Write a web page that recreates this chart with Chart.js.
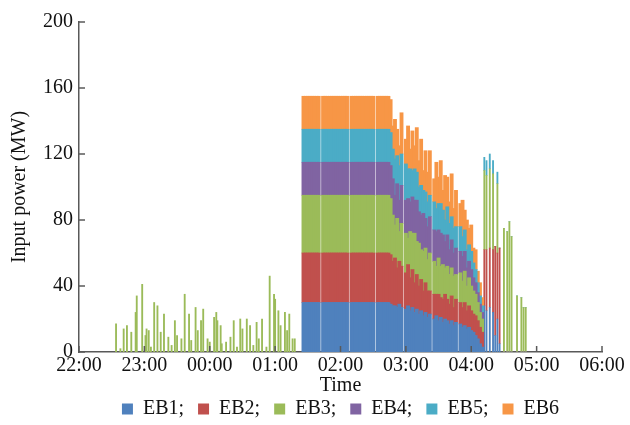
<!DOCTYPE html>
<html>
<head>
<meta charset="utf-8">
<script src="https://cdn.jsdelivr.net/npm/chart.js@4.4.1/dist/chart.umd.min.js"></script>
<style>
  html, body { margin: 0; padding: 0; background: #fff; }
</style>
</head>
<body>
<canvas id="powerChart" width="630" height="425"></canvas>
<script>
// minutes after 22:00
const hourTicks = ['22:00', '23:00', '00:00', '01:00', '02:00', '03:00', '04:00', '05:00', '06:00'];
const seriesNames = ['EB1', 'EB2', 'EB3', 'EB4', 'EB5', 'EB6'];
const seriesColors = ['#4F81BD', '#C0504D', '#9BBB59', '#8064A2', '#4BACC6', '#F79646'];

// 2-minute bins, full load block then ramp down
const mainTimes = [
  206, 208, 210, 212, 214, 216, 218, 220,
  224, 226, 228, 230, 232, 234, 236, 238, 240, 242, 244, 246,
  250, 252, 254, 256, 258, 260, 262, 264, 266, 268, 270,
  274, 276, 278, 280, 282, 284,
  286, 288, 290, 292, 294, 296,
  300, 302, 304, 306, 308, 310, 312, 314, 316, 318, 320, 322,
  326, 328, 330, 332, 334, 336, 338, 340, 342, 344, 346,
  350, 352, 354, 356, 358, 360, 362, 364, 366, 368, 370
];
const eb1 = [
  30, 30, 30, 30, 30, 30, 30, 30,
  30, 30, 30, 30, 30, 30, 30, 30, 30, 30, 30, 30,
  30, 30, 30, 30, 30, 30, 30, 30, 30, 30, 30,
  30, 30, 30, 30, 30, 30,
  29, 28, 28, 27, 29, 27,
  26, 28, 25, 27, 24, 26, 23, 25, 22, 24, 21, 23,
  20, 22, 19, 21, 18, 20, 19, 17, 19, 16, 18,
  17, 15, 16, 14, 15, 13, 12, 10, 8, 5, 3
];
const eb2 = [
  30, 30, 30, 30, 30, 30, 30, 30,
  30, 30, 30, 30, 30, 30, 30, 30, 30, 30, 30, 30,
  30, 30, 30, 30, 30, 30, 30, 30, 30, 30, 30,
  30, 30, 30, 30, 30, 30,
  30, 27, 29, 24, 26, 25,
  22, 25, 20, 23, 18, 21, 17, 19, 15, 18, 16, 14,
  15, 13, 16, 12, 14, 15, 13, 12, 15, 11, 14,
  13, 12, 14, 11, 13, 12, 11, 12, 11, 10, 9
];
const eb3 = [
  35, 35, 35, 35, 35, 35, 35, 35,
  35, 35, 35, 35, 35, 35, 35, 35, 35, 35, 35, 35,
  35, 35, 35, 35, 35, 35, 35, 35, 35, 35, 35,
  35, 35, 35, 35, 35, 35,
  34, 28, 20, 30, 18, 26,
  24, 16, 28, 22, 30, 20, 26, 18, 24, 21, 19, 23,
  20, 17, 22, 19, 21, 16, 20, 18, 17, 19, 15,
  18, 16, 19, 15, 17, 15, 14, 13, 11, 9, 8
];
const eb4 = [
  20, 20, 20, 20, 20, 20, 20, 20,
  20, 20, 20, 20, 20, 20, 20, 20, 20, 20, 20, 20,
  20, 20, 20, 20, 20, 20, 20, 20, 20, 20, 20,
  20, 20, 20, 20, 20, 20,
  20, 22, 18, 21, 19, 23,
  20, 24, 18, 22, 20, 25, 19, 21, 23, 18, 20, 22,
  19, 21, 17, 20, 18, 16, 19, 15, 17, 14, 16,
  13, 15, 12, 11, 10, 10, 8, 7, 6, 5, 4
];
const eb5 = [
  20, 20, 20, 20, 20, 20, 20, 20,
  20, 20, 20, 20, 20, 20, 20, 20, 20, 20, 20, 20,
  20, 20, 20, 20, 20, 20, 20, 20, 20, 20, 20,
  20, 20, 20, 20, 20, 20,
  20, 18, 22, 17, 21, 19,
  22, 18, 20, 16, 19, 17, 15, 18, 14, 16, 15, 13,
  17, 14, 16, 18, 15, 13, 17, 16, 14, 15, 13,
  15, 12, 13, 11, 10, 11, 9, 8, 6, 5, 4
];
const eb6 = [
  20, 20, 20, 20, 20, 20, 20, 20,
  20, 20, 20, 20, 20, 20, 20, 20, 20, 20, 20, 20,
  20, 20, 20, 20, 20, 20, 20, 20, 20, 20, 20,
  20, 20, 20, 20, 20, 20,
  20, 14, 24, 16, 12, 25,
  15, 26, 12, 24, 14, 27, 16, 28, 12, 25, 18, 27,
  14, 28, 16, 26, 12, 27, 18, 13, 26, 12, 22,
  14, 22, 12, 18, 10, 16, 9, 12, 7, 8, 5
];

// scattered single boiler spikes before the block (EB3 only)
const earlyTimes = [
  34, 38, 41, 44, 48, 52, 53, 58, 61, 62, 64, 66, 69, 72, 75, 78, 82, 85, 88, 90,
  94, 97, 101, 103, 107, 109, 112, 114, 118, 120, 124, 126, 127, 130, 131, 135, 139, 142, 145, 148,
  150, 154, 157, 160, 163, 165, 168, 172, 175, 179, 180, 183, 185, 189, 191, 193, 196, 198
];
const earlyEB3 = [
  17, 2, 14, 16, 12, 24, 34, 41, 10, 14, 13, 3, 30, 28, 12, 23, 9, 4, 19, 10,
  8, 35, 23, 7, 27, 13, 19, 26, 8, 6, 21, 24, 19, 16, 5, 6, 9, 19, 3, 20,
  14, 20, 16, 4, 18, 8, 20, 3, 46, 35, 32, 25, 16, 24, 13, 23, 8, 8
];

// thin spikes after the ramp
const lateTimes = [372, 374, 377, 380, 382, 384, 386, 390, 393, 395, 397, 402, 406, 408, 410];
const lateEB1 = [28, 25, 27, 24, 10, 20, 5, 0, 0, 0, 0, 0, 0, 0, 0];
const lateEB2 = [34, 37, 36, 38, 54, 40, 58, 0, 0, 0, 0, 0, 0, 0, 0];
const lateEB3 = [48, 45, 48, 46, 0, 42, 0, 75, 73, 79, 70, 34, 33, 27, 27];
const lateEB5 = [8, 9, 9, 8, 0, 7, 0, 0, 0, 0, 0, 0, 0, 0, 0];

const axisColor = '#595959';
const textColor = '#111';
Chart.defaults.font.family = "'Liberation Serif', 'Times New Roman', serif";
Chart.defaults.font.size = 20;
Chart.defaults.color = textColor;

function pts(times, vals) {
  return times.map((t, i) => ({ x: t, y: vals[i] }));
}

function barSet(idx, times, vals, thin) {
  return {
    label: seriesNames[idx],
    data: pts(times, vals),
    backgroundColor: seriesColors[idx],
    borderWidth: 0,
    barThickness: thin ? 1.2 : 3.2,
    thin: thin
  };
}

const mainSeries = [eb1, eb2, eb3, eb4, eb5, eb6];
const datasets = mainSeries.map((vals, i) => barSet(i, mainTimes, vals, false));
datasets.push(barSet(2, earlyTimes, earlyEB3, true));
datasets.push(barSet(0, lateTimes, lateEB1, true));
datasets.push(barSet(1, lateTimes, lateEB2, true));
datasets.push(barSet(2, lateTimes, lateEB3, true));
datasets.push(barSet(4, lateTimes, lateEB5, true));

// tick marks pointing into the plot
const innerTicks = {
  id: 'innerTicks',
  afterDatasetsDraw(chart) {
    const { ctx, scales: { x, y } } = chart;
    ctx.save();
    ctx.strokeStyle = axisColor;
    ctx.lineWidth = 1.5;
    ctx.beginPath();
    x.ticks.forEach(t => {
      const px = x.getPixelForValue(t.value);
      ctx.moveTo(px, x.top);
      ctx.lineTo(px, x.top - 6);
    });
    y.ticks.forEach(t => {
      const py = y.getPixelForValue(t.value);
      ctx.moveTo(y.right, py);
      ctx.lineTo(y.right + 6, py);
    });
    ctx.stroke();
    ctx.restore();
  }
};

new Chart(document.getElementById('powerChart'), {
  type: 'bar',
  data: { datasets: datasets },
  options: {
    responsive: false,
    animation: false,
    layout: { padding: { left: 0, right: 28, top: 22, bottom: -4 } },
    plugins: {
      tooltip: { enabled: false },
      legend: {
        position: 'bottom',
        fullSize: false,
        labels: {
          boxWidth: 11,
          boxHeight: 11,
          padding: 14,
          color: textColor,
          generateLabels(chart) {
            const items = Chart.defaults.plugins.legend.labels.generateLabels(chart)
              .filter(item => !chart.data.datasets[item.datasetIndex].thin);
            return items.map((item, i) => ({ ...item, text: item.text + (i < items.length - 1 ? ';' : '') }));
          }
        }
      }
    },
    scales: {
      x: {
        type: 'linear',
        stacked: true,
        offset: false,
        min: 0,
        max: 480,
        z: 1,
        grid: { display: false, drawTicks: false },
        border: { display: true, color: axisColor, width: 1.5 },
        ticks: {
          stepSize: 60,
          autoSkip: false,
          maxRotation: 0,
          padding: 2,
          color: textColor,
          callback: (v) => hourTicks[v / 60]
        },
        title: { display: true, text: 'Time', color: textColor, padding: { top: -6, bottom: -13 } }
      },
      y: {
        stacked: true,
        min: 0,
        max: 200,
        z: 1,
        grid: { display: false, drawTicks: false },
        border: { display: true, color: axisColor, width: 1.5 },
        ticks: { stepSize: 40, padding: 6, color: textColor },
        title: { display: true, text: 'Input power (MW)', color: textColor, padding: { top: 8, bottom: 5 } }
      }
    }
  },
  plugins: [innerTicks]
});
</script>
</body>
</html>
